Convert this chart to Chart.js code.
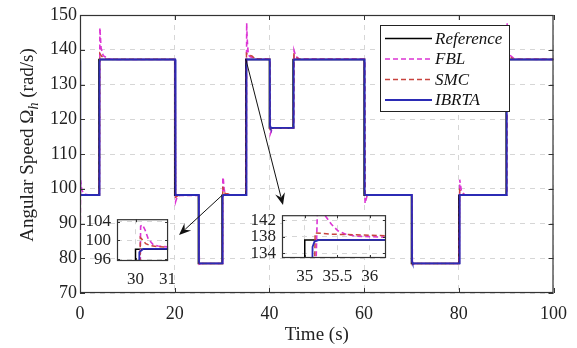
<!DOCTYPE html>
<html>
<head>
<meta charset="utf-8">
<script src="https://cdn.jsdelivr.net/npm/chart.js@4.4.0/dist/chart.umd.min.js"></script>
<style>
  html, body { margin: 0; padding: 0; background: #fff; }
  #wrap { position: relative; width: 577px; height: 348px; overflow: hidden; }
  canvas { position: absolute; }
</style>
</head>
<body>
<div id="wrap">
  <canvas id="main" width="577" height="348" style="left:0;top:0"></canvas>
  <canvas id="zoom1"></canvas>
  <canvas id="zoom2"></canvas>
</div>
<script>
// reference: piecewise constant speed command
const stepTimes = [0, 4, 20, 25, 30, 35, 40, 45, 60, 70, 80, 90, 100]
const refLevels = [98.1, 137.2, 98.1, 78.5, 98.1, 137.2, 117.5, 137.2, 98.1, 78.5, 98.1, 137.2, 137.2]

// [time, speed]
const fblPoints = [
  [0, 77], [0.12, 102.5], [0.4, 99.5], [1, 98.4], [2, 98.2],
  [4.1, 98.2], [4.2, 146.3], [4.45, 140.5], [4.9, 138.3], [6, 137.4], [7, 137.2],
  [20.1, 137.2], [20.2, 96.3], [20.5, 97.6], [21.2, 98.1],
  [25.1, 98.1], [25.2, 78.3], [25.6, 78.5],
  [30.13, 78.5], [30.16, 103], [30.22, 103.3], [30.3, 102.2], [30.4, 100.3], [30.55, 99.1], [30.7, 98.8], [31, 98.6], [31.8, 98.2],
  [35.12, 98.2], [35.2, 147.7], [35.31, 143.2], [35.41, 141], [35.51, 139.4], [35.64, 138.5], [35.8, 138.1], [36.3, 137.8], [37.2, 137.3],
  [40.1, 137.3], [40.2, 115.8], [40.6, 117.3], [41.2, 117.5],
  [45.1, 117.5], [45.2, 139.8], [45.55, 138.2], [46.3, 137.3],
  [60.1, 137.3], [60.2, 95.8], [60.6, 97.8], [61.2, 98.2],
  [70.1, 98.2], [70.2, 78.3], [70.6, 78.5],
  [80.1, 78.5], [80.2, 102.6], [80.55, 99.3], [81.3, 98.2],
  [90.1, 98.2], [90.2, 147.6], [90.45, 140.5], [90.9, 138.3], [91.8, 137.3], [100, 137.2]
]

const smcPoints = [
  [0, 98.3], [4.12, 98.3], [4.18, 138.9], [4.6, 138.1], [5.5, 137.3],
  [20.12, 137.3], [20.18, 97.6], [20.8, 98.1],
  [25.12, 98.1], [25.18, 78.2], [25.8, 78.5],
  [30.12, 78.5], [30.15, 100.6], [30.22, 100.1], [30.32, 99.3], [30.45, 98.9], [30.7, 98.65], [31.1, 98.55], [31.8, 98.2],
  [35.12, 98.2], [35.16, 138.9], [35.4, 138.6], [36.3, 138.2], [37, 137.4],
  [40.12, 137.3], [40.18, 117.1], [40.8, 117.5],
  [45.12, 117.5], [45.18, 138.6], [45.8, 137.6], [46.5, 137.3],
  [60.12, 137.3], [60.18, 97.7], [60.8, 98.1],
  [70.12, 98.1], [70.18, 78.2], [70.8, 78.5],
  [80.12, 78.5], [80.18, 99.6], [80.8, 98.4], [81.5, 98.1],
  [90.12, 98.1], [90.18, 138.9], [90.6, 138.1], [91.5, 137.3], [100, 137.3]
]

const ibrtaPoints = [
  [0, 137], [0.06, 98.2], [4.1, 98.2], [4.13, 136.5], [4.25, 137.2],
  [20.1, 137.2], [20.13, 98.6], [20.25, 98.2],
  [25.1, 98.2], [25.13, 79], [25.25, 78.5],
  [30.1, 78.5], [30.12, 97.5], [30.25, 98.2],
  [35.1, 98.2], [35.12, 135.5], [35.15, 136.8], [35.22, 137.2],
  [40.1, 137.2], [40.13, 118], [40.25, 117.5],
  [45.1, 117.5], [45.13, 136.7], [45.25, 137.2],
  [60.1, 137.2], [60.13, 98.6], [60.25, 98.2],
  [70.1, 98.2], [70.13, 79], [70.25, 78.5],
  [80.1, 78.5], [80.13, 97.7], [80.25, 98.2],
  [90.1, 98.2], [90.13, 136.7], [90.25, 137.2], [100, 137.2]
]

const seriesLabels = ['Reference', 'FBL', 'SMC', 'IBRTA']

const xTicks = [0, 20, 40, 60, 80, 100]
const yTicks = [70, 80, 90, 100, 110, 120, 130, 140, 150]
const zoom1XTicks = [30, 31]
const zoom1YTicks = [96, 100, 104]
const zoom2XTicks = [35, 35.5, 36]
const zoom2YTicks = [134, 138, 142]

const SERIF = '"Liberation Serif", "Times New Roman", serif'
const AXIS = '#333'

// plot boxes in page pixels
const mainBox = { left: 80, top: 15, right: 564, bottom: 293 }
const zoom1Box = { left: 117, top: 209, right: 178, bottom: 261 }
const zoom2Box = { left: 282, top: 205, right: 386, bottom: 258 }

function toXY (pairs) {
  return pairs.map(([x, y]) => ({ x, y }))
}

function buildDatasets () {
  const common = { pointRadius: 0, tension: 0, fill: false }
  return [
    { ...common, label: seriesLabels[0], data: stepTimes.map((t, i) => ({ x: t, y: refLevels[i] })), stepped: true, borderColor: '#000', borderWidth: 1.5, order: 3 },
    { ...common, label: seriesLabels[1], data: toXY(fblPoints), borderColor: '#dc35d4', borderWidth: 1.6, borderDash: [5, 3], order: 2 },
    { ...common, label: seriesLabels[2], data: toXY(smcPoints), borderColor: '#c8433e', borderWidth: 1.5, borderDash: [5, 3], order: 1 },
    { ...common, label: seriesLabels[3], data: toXY(ibrtaPoints), borderColor: '#2b2bb5', borderWidth: 1.8, order: 0 }
  ]
}

function fixedTicks (values) {
  return (scale) => { scale.ticks = values.map((v) => ({ value: v })) }
}

// white plot area, box and inward MATLAB style ticks
const framePlugin = {
  id: 'frame',
  beforeDraw (chart) {
    const { ctx, chartArea: a } = chart
    ctx.save()
    ctx.fillStyle = '#fff'
    ctx.fillRect(a.left, a.top, a.width, a.height)
    ctx.restore()
  },
  afterDatasetsDraw (chart, args, opts) {
    const { ctx, chartArea: a, scales } = chart
    const len = opts.tickLength
    ctx.save()
    ctx.strokeStyle = AXIS
    ctx.lineWidth = 1
    ctx.beginPath()
    scales.x.ticks.forEach((t) => {
      const px = Math.round(scales.x.getPixelForValue(t.value)) + 0.5
      ctx.moveTo(px, a.bottom); ctx.lineTo(px, a.bottom - len)
      ctx.moveTo(px, a.top); ctx.lineTo(px, a.top + len)
    })
    scales.y.ticks.forEach((t) => {
      const py = Math.round(scales.y.getPixelForValue(t.value)) + 0.5
      ctx.moveTo(a.left, py); ctx.lineTo(a.left + len, py)
      ctx.moveTo(a.right, py); ctx.lineTo(a.right - len, py)
    })
    ctx.stroke()
    ctx.lineWidth = opts.lineWidth
    ctx.strokeRect(a.left + 0.5, a.top + 0.5, a.width - 1, a.height - 1)
    ctx.restore()
  }
}

function arrow (ctx, x0, y0, x1, y1) {
  const ang = Math.atan2(y1 - y0, x1 - x0)
  const L = 12, W = 5
  ctx.beginPath()
  ctx.moveTo(x0, y0)
  ctx.lineTo(x1 - Math.cos(ang) * L * 0.7, y1 - Math.sin(ang) * L * 0.7)
  ctx.stroke()
  ctx.save()
  ctx.translate(x1, y1)
  ctx.rotate(ang)
  ctx.beginPath()
  ctx.moveTo(0, 0)
  ctx.lineTo(-L, -W)
  ctx.lineTo(-L * 0.65, 0)
  ctx.lineTo(-L, W)
  ctx.closePath()
  ctx.fill()
  ctx.restore()
}

const decorPlugin = {
  id: 'decor',
  afterDraw (chart) {
    const { ctx, scales, chartArea: a } = chart
    ctx.save()

    // arrows from the zoomed steps to their insets
    ctx.strokeStyle = '#111'
    ctx.fillStyle = '#111'
    ctx.lineWidth = 1
    arrow(ctx, scales.x.getPixelForValue(30), scales.y.getPixelForValue(98.1), zoom1Box.right + 1, (zoom1Box.top + zoom1Box.bottom) / 2)
    arrow(ctx, scales.x.getPixelForValue(35), scales.y.getPixelForValue(137.4), zoom2Box.left + 1, zoom2Box.top)

    // legend
    const lx = 380, ly = 25, lw = 129, lh = 86
    ctx.fillStyle = '#fff'
    ctx.fillRect(lx, ly, lw, lh)
    ctx.strokeStyle = '#222'
    ctx.strokeRect(lx + 0.5, ly + 0.5, lw, lh)
    chart.data.datasets.forEach((ds, i) => {
      const y = ly + 13.5 + i * 20.5
      ctx.strokeStyle = ds.borderColor
      ctx.lineWidth = ds.borderWidth
      ctx.setLineDash(ds.borderDash || [])
      ctx.beginPath()
      ctx.moveTo(lx + 5, y)
      ctx.lineTo(lx + 52, y)
      ctx.stroke()
      ctx.setLineDash([])
      ctx.fillStyle = '#111'
      ctx.font = 'italic 17px ' + SERIF
      ctx.textBaseline = 'middle'
      ctx.fillText(ds.label, lx + 55, y + 1)
    })

    // axis titles
    ctx.fillStyle = '#222'
    ctx.font = '19px ' + SERIF
    ctx.textAlign = 'center'
    ctx.textBaseline = 'middle'
    ctx.fillText('Time (s)', (a.left + a.right) / 2, 335)

    ctx.translate(27, 145)
    ctx.rotate(-Math.PI / 2)
    const parts = [
      ['Angular Speed \u03A9', '19px ' + SERIF, 0],
      ['h', 'italic 14px ' + SERIF, 5],
      [' (rad/s)', '19px ' + SERIF, 0]
    ]
    ctx.textAlign = 'left'
    ctx.textBaseline = 'alphabetic'
    let total = 0
    parts.forEach(([txt, font]) => { ctx.font = font; total += ctx.measureText(txt).width })
    let x = -total / 2
    parts.forEach(([txt, font, dy]) => {
      ctx.font = font
      ctx.fillText(txt, x, 6 + dy)
      x += ctx.measureText(txt).width
    })
    ctx.restore()
  }
}

function axisOptions (min, max, ticks, size, pad, fit) {
  return {
    type: 'linear',
    min: min,
    max: max,
    afterBuildTicks: fixedTicks(ticks),
    afterFit: fit,
    ticks: {
      autoSkip: false,
      maxRotation: 0,
      padding: pad,
      color: '#222',
      font: { family: SERIF, size: size },
      callback: (v) => String(v)
    },
    grid: { color: '#d6d6d6', lineWidth: 1, drawTicks: false },
    border: { display: false, dash: [5, 5] }
  }
}

function mainChart () {
  const canvas = document.getElementById('main')
  return new Chart(canvas, {
    type: 'line',
    data: { datasets: buildDatasets() },
    options: {
      responsive: false,
      animation: false,
      devicePixelRatio: 1,
      layout: { padding: { left: 0, top: mainBox.top, right: 577 - mainBox.right, bottom: 0 } },
      scales: {
        x: axisOptions(0, 100, xTicks, 18, 10, (s) => { s.height = 348 - mainBox.bottom }),
        y: axisOptions(70, 150, yTicks, 18, 3, (s) => { s.width = mainBox.left })
      },
      plugins: { legend: { display: false }, tooltip: { enabled: false }, frame: { tickLength: 5, lineWidth: 1.2 } }
    },
    plugins: [framePlugin, decorPlugin]
  })
}

function insetChart (id, box, xr, yr, xt, yt) {
  const yw = 42, xh = 34, pad = 6
  const canvas = document.getElementById(id)
  canvas.width = yw + (box.right - box.left) + pad
  canvas.height = pad + (box.bottom - box.top) + xh
  canvas.style.left = (box.left - yw) + 'px'
  canvas.style.top = (box.top - pad) + 'px'
  return new Chart(canvas, {
    type: 'line',
    data: { datasets: buildDatasets() },
    options: {
      responsive: false,
      animation: false,
      devicePixelRatio: 1,
      layout: { padding: { left: 0, top: pad, right: pad, bottom: 0 } },
      scales: {
        x: axisOptions(xr[0], xr[1], xt, 17, 8, (s) => { s.height = xh }),
        y: axisOptions(yr[0], yr[1], yt, 17, 6, (s) => { s.width = yw })
      },
      plugins: { legend: { display: false }, tooltip: { enabled: false }, frame: { tickLength: 3, lineWidth: 1.2 } }
    },
    plugins: [framePlugin]
  })
}

mainChart()
insetChart('zoom1', zoom1Box, [29.42, 31.02], [95.6, 104.5], zoom1XTicks, zoom1YTicks)
insetChart('zoom2', zoom2Box, [34.65, 36.25], [132.8, 143.2], zoom2XTicks, zoom2YTicks)
</script>
</body>
</html>
